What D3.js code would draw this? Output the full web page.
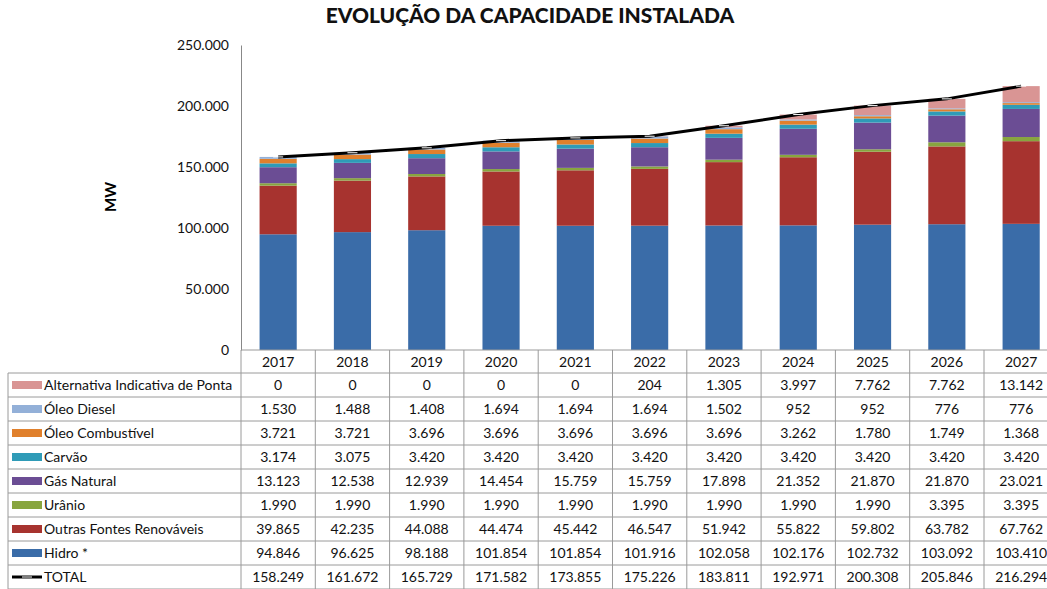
<!DOCTYPE html>
<html>
<head>
<meta charset="utf-8">
<script src="https://cdn.jsdelivr.net/npm/d3@7"></script>
<style>
  body { margin: 0; background: #fff; }
  svg { display: block; font-family: Lato, "Open Sans", sans-serif; }
</style>
</head>
<body>
<svg width="1047" height="589"></svg>
<script>
const years = ["2017", "2018", "2019", "2020", "2021", "2022", "2023", "2024", "2025", "2026", "2027"]

// series listed bottom -> top of the stack
const seriesNames = ["Hidro *", "Outras Fontes Renováveis", "Urânio", "Gás Natural", "Carvão", "Óleo Combustível", "Óleo Diesel", "Alternativa Indicativa de Ponta"]
const seriesColors = ["#3a6ca8", "#a7332f", "#88a53f", "#6b4d94", "#2f9bb7", "#e0802c", "#93b0d8", "#d99594"]

const hidro = [94846, 96625, 98188, 101854, 101854, 101916, 102058, 102176, 102732, 103092, 103410]
const outras = [39865, 42235, 44088, 44474, 45442, 46547, 51942, 55822, 59802, 63782, 67762]
const uranio = [1990, 1990, 1990, 1990, 1990, 1990, 1990, 1990, 1990, 3395, 3395]
const gasNatural = [13123, 12538, 12939, 14454, 15759, 15759, 17898, 21352, 21870, 21870, 23021]
const carvao = [3174, 3075, 3420, 3420, 3420, 3420, 3420, 3420, 3420, 3420, 3420]
const oleoCombustivel = [3721, 3721, 3696, 3696, 3696, 3696, 3696, 3262, 1780, 1749, 1368]
const oleoDiesel = [1530, 1488, 1408, 1694, 1694, 1694, 1502, 952, 952, 776, 776]
const alternativa = [0, 0, 0, 0, 0, 204, 1305, 3997, 7762, 7762, 13142]
const total = [158249, 161672, 165729, 171582, 173855, 175226, 183811, 192971, 200308, 205846, 216294]

const yTicks = [0, 50000, 100000, 150000, 200000, 250000]

const seriesValues = [hidro, outras, uranio, gasNatural, carvao, oleoCombustivel, oleoDiesel, alternativa]

const pt = d3.formatLocale({ decimal: ",", thousands: ".", grouping: [3], currency: ["", ""] })
const fmt = pt.format(",d")

const svg = d3.select("svg")
const plotLeft = 241, colW = 74.3, plotTop = 45, plotBottom = 350
const rowTop = 373, rowH = 24

const rows = years.map((y, i) => {
  const r = { year: y }
  seriesNames.forEach((s, k) => { r[s] = seriesValues[k][i] })
  return r
})

const x = d3.scaleBand().domain(years).range([plotLeft, plotLeft + colW * years.length]).paddingInner(0).paddingOuter(0)
const y = d3.scaleLinear().domain([0, 250000]).range([plotBottom, plotTop])

// title
svg.append("text")
  .attr("x", 530).attr("y", 23)
  .attr("text-anchor", "middle")
  .attr("font-size", 21).attr("font-weight", 900)
  .attr("fill", "#111")
  .text("EVOLUÇÃO DA CAPACIDADE INSTALADA")

// y axis label
svg.append("text")
  .attr("transform", "translate(116,197) rotate(-90)")
  .attr("text-anchor", "middle")
  .attr("font-size", 15).attr("font-weight", 700)
  .text("MW")

// y axis
const yAxis = svg.append("g")
  .attr("transform", `translate(${plotLeft},0)`)
  .call(d3.axisLeft(y).tickValues(yTicks).tickSize(0).tickPadding(12).tickFormat(fmt))
yAxis.select(".domain").attr("stroke", "#888")
yAxis.selectAll("text").attr("font-size", 14).attr("font-family", "Lato, sans-serif").attr("fill", "#111")

// stacked bars
const stack = d3.stack().keys(seriesNames)(rows)
const barW = x.bandwidth() * 0.5
svg.append("g").selectAll("g")
  .data(stack)
  .join("g")
  .attr("fill", (d, i) => seriesColors[i])
  .selectAll("rect")
  .data(d => d)
  .join("rect")
  .attr("x", d => x(d.data.year) + (x.bandwidth() - barW) / 2)
  .attr("width", barW)
  .attr("y", d => y(d[1]))
  .attr("height", d => y(d[0]) - y(d[1]))

// total line
const line = d3.line()
  .x((d, i) => x(years[i]) + x.bandwidth() / 2)
  .y(d => y(d))
svg.append("path")
  .datum(total)
  .attr("fill", "none")
  .attr("stroke", "#000")
  .attr("stroke-width", 3)
  .attr("d", line)
svg.append("g").selectAll("line")
  .data(total)
  .join("line")
  .attr("x1", (d, i) => x(years[i]) + x.bandwidth() / 2 - 5)
  .attr("x2", (d, i) => x(years[i]) + x.bandwidth() / 2 + 5)
  .attr("y1", d => y(d))
  .attr("y2", d => y(d))
  .attr("stroke", "#fff")
  .attr("stroke-width", 1)

// data table
const table = svg.append("g")
const gridColor = "#9a9a9a"
const tableRight = plotLeft + colW * years.length
const tableRows = seriesNames.slice().reverse().map((s, k) => ({
  name: s,
  color: seriesColors[seriesNames.length - 1 - k],
  values: seriesValues[seriesNames.length - 1 - k],
  isLine: false
}))
tableRows.push({ name: "TOTAL", color: "#000", values: total, isLine: true })
const tableBottom = rowTop + rowH * tableRows.length

// horizontal lines
table.append("line")
  .attr("x1", plotLeft).attr("x2", tableRight)
  .attr("y1", plotBottom).attr("y2", plotBottom)
  .attr("stroke", gridColor)
d3.range(tableRows.length + 1).forEach(i => {
  table.append("line")
    .attr("x1", 8).attr("x2", tableRight)
    .attr("y1", rowTop + i * rowH).attr("y2", rowTop + i * rowH)
    .attr("stroke", gridColor)
})
// vertical lines
table.append("line")
  .attr("x1", 8).attr("x2", 8)
  .attr("y1", rowTop).attr("y2", tableBottom)
  .attr("stroke", gridColor)
d3.range(years.length + 1).forEach(i => {
  table.append("line")
    .attr("x1", plotLeft + i * colW).attr("x2", plotLeft + i * colW)
    .attr("y1", plotBottom).attr("y2", tableBottom)
    .attr("stroke", gridColor)
})

// year header
table.selectAll(".year")
  .data(years)
  .join("text")
  .attr("class", "year")
  .attr("x", d => x(d) + x.bandwidth() / 2)
  .attr("y", plotBottom + 17)
  .attr("text-anchor", "middle")
  .attr("font-size", 14)
  .attr("fill", "#111")
  .text(d => d)

tableRows.forEach((r, k) => {
  const cy = rowTop + k * rowH + rowH / 2
  if (r.isLine) {
    table.append("line")
      .attr("x1", 12).attr("x2", 42).attr("y1", cy).attr("y2", cy)
      .attr("stroke", "#000").attr("stroke-width", 3)
    table.append("line")
      .attr("x1", 22).attr("x2", 32).attr("y1", cy).attr("y2", cy)
      .attr("stroke", "#fff").attr("stroke-width", 1)
  } else {
    table.append("rect")
      .attr("x", 12).attr("y", cy - 4).attr("width", 30).attr("height", 8)
      .attr("fill", r.color)
  }
  table.append("text")
    .attr("x", 44).attr("y", cy + 5)
    .attr("font-size", 14).attr("fill", "#111")
    .text(r.name)
  table.append("g").selectAll("text")
    .data(r.values)
    .join("text")
    .attr("x", (d, i) => x(years[i]) + x.bandwidth() / 2)
    .attr("y", cy + 5)
    .attr("text-anchor", "middle")
    .attr("font-size", 14).attr("fill", "#111")
    .text(d => fmt(d))
})
</script>
</body>
</html>
